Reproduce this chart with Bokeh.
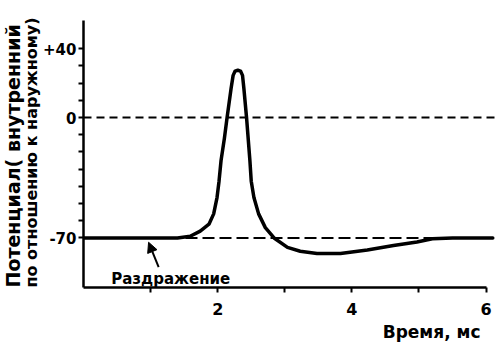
from bokeh.plotting import figure
from bokeh.models import Range1d, FixedTicker, Label, Arrow, NormalHead, Span, Title
from bokeh.embed import file_html
from bokeh.resources import INLINE

# --- data ---
time_ms = [0, 1.40, 1.59, 1.74, 1.87, 1.94, 1.99, 2.02, 2.05, 2.10, 2.14, 2.20, 2.23,
           2.26, 2.30, 2.34, 2.37, 2.39, 2.43, 2.48, 2.50, 2.54, 2.61, 2.71, 2.84,
           3.04, 3.23, 3.48, 3.83, 4.23, 4.62, 4.97, 5.20, 5.50, 6.10]
potential_mv = [-70, -70, -69, -66, -62, -56, -46.5, -37, -25, -12, 0, 17, 24.5,
                27, 27.5, 27, 24.5, 17, 0, -25, -37, -46.5, -56, -64, -70,
                -75.5, -77.7, -79, -79, -77, -74.4, -72.3, -70.5, -70, -70]
rest_mv = -70
zero_mv = 0
y_major = [40, 0, -70]
y_major_labels = {40: "+40", 0: "0", -70: "-70"}
y_minor = [-60, -50, -40, -30, -20, -10, 10, 20, 30]
x_major = [2, 4, 6]
x_minor = [1, 3, 5]
stim_time = 0.97
ylab1 = "Потенциал( внутренний"
ylab2 = "по отношению к наружному)"
xlab = "Время, мс"
stim_label = "Раздражение"

FONT = "DejaVu Sans"

p = figure(width=499, height=352, x_range=Range1d(0, 6.2), y_range=Range1d(-98.8, 56.4),
           output_backend="svg", toolbar_location=None,
           min_border_left=83, min_border_right=0, min_border_top=20, min_border_bottom=65)
p.xgrid.visible = False
p.ygrid.visible = False
p.outline_line_color = None
p.background_fill_color = "white"

for ax in (p.xaxis[0], p.yaxis[0]):
    ax.axis_line_width = 2.5
    ax.axis_line_color = "black"
    ax.major_tick_line_width = 2
    ax.minor_tick_line_width = 2
    ax.major_tick_line_color = "black"
    ax.minor_tick_line_color = "black"
    ax.major_tick_in = 0
    ax.minor_tick_in = 0
    ax.major_tick_out = 5
    ax.minor_tick_out = 5
    ax.major_label_text_font = FONT
    ax.major_label_text_font_style = "bold"
    ax.major_label_text_color = "black"

p.xaxis.major_label_text_font_size = "16px"
p.yaxis.major_label_text_font_size = "15px"
p.xaxis.bounds = (0, 6)
p.xaxis.ticker = FixedTicker(ticks=x_major, minor_ticks=x_minor)
p.xaxis.major_label_standoff = 10
p.yaxis.ticker = FixedTicker(ticks=y_major, minor_ticks=y_minor)
p.yaxis.major_label_overrides = y_major_labels
p.yaxis.major_label_standoff = 2

# reference lines
p.add_layout(Span(location=zero_mv, dimension="width", line_color="black",
                  line_width=2, line_dash="8 5"))
p.line([0, time_ms[-1]], [rest_mv, rest_mv], line_color="black", line_width=2, line_dash="12 5")

# action potential
p.line(time_ms, potential_mv, line_color="black", line_width=3.5,
       line_join="round", line_cap="round")

# stimulus arrow and label
p.add_layout(Arrow(end=NormalHead(size=10, fill_color="black", line_color="black", line_width=1),
                   x_start=stim_time + 0.15, y_start=rest_mv - 17,
                   x_end=stim_time, y_end=rest_mv - 2.5,
                   line_width=2, line_color="black"))
p.add_layout(Label(x=1.30, y=-93.6, text=stim_label, text_font=FONT, text_font_style="bold",
                   text_font_size="15px", text_align="center", text_baseline="middle",
                   text_color="black"))

# axis titles
p.add_layout(Title(text=xlab, align="right", offset=19, standoff=4, text_font=FONT,
                   text_font_style="bold", text_font_size="17px", text_color="black"), "below")
p.add_layout(Title(text=ylab2, align="left", offset=0, standoff=0, text_font=FONT,
                   text_font_style="bold", text_font_size="16px", text_color="black"), "left")
p.add_layout(Title(text=ylab1, align="left", offset=0, standoff=-9, text_font=FONT,
                   text_font_style="bold", text_font_size="19px", text_color="black"), "left")

open("out.html", "w").write(file_html(p, INLINE))
